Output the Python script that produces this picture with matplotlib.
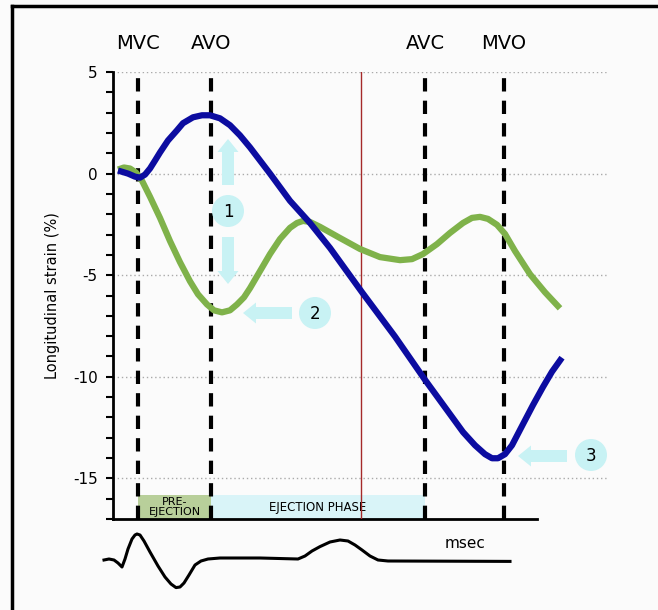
import matplotlib
matplotlib.use('Agg')
import matplotlib.pyplot as plt
from matplotlib.patches import FancyArrow, Circle, Rectangle
from matplotlib.lines import Line2D
from matplotlib.ticker import MultipleLocator

plt.rcParams['axes.unicode_minus'] = False
plt.rcParams['font.family'] = 'DejaVu Sans'

# valve events (msec)
event_names = ['MVC', 'AVO', 'AVC', 'MVO']
event_times = [50, 196, 624, 782]
mid_time = 496

# longitudinal strain (%) over time (msec)
t_blue = [10, 30, 44, 54, 64, 74, 84, 94, 110, 128, 140, 160, 178, 194, 214,
          234, 254, 274, 314, 354, 394, 434, 498, 564, 624, 700, 724, 744,
          758, 770, 784, 798, 820, 840, 860, 878, 898]
s_blue = [0.15, 0.0, -0.15, -0.2, -0.05, 0.25, 0.64, 1.04, 1.63, 2.13, 2.48,
          2.77, 2.87, 2.87, 2.72, 2.38, 1.88, 1.29, 0.0, -1.34, -2.43, -3.66,
          -5.84, -8.02, -10.15, -12.72, -13.37, -13.81, -14.01, -14.01,
          -13.81, -13.37, -12.33, -11.39, -10.5, -9.75, -9.06]

t_green = [10, 22, 34, 46, 58, 74, 94, 114, 134, 154, 170, 188, 202, 218,
           234, 248, 262, 274, 294, 314, 334, 354, 368, 380, 394, 414, 454,
           494, 534, 574, 598, 620, 648, 674, 700, 718, 734, 750, 768, 784,
           804, 834, 864, 894]
s_green = [0.2, 0.3, 0.25, 0.05, -0.35, -1.14, -2.18, -3.32, -4.36, -5.30,
           -5.94, -6.44, -6.73, -6.83, -6.73, -6.44, -6.09, -5.64, -4.80,
           -3.96, -3.22, -2.67, -2.43, -2.33, -2.38, -2.62, -3.17, -3.71,
           -4.11, -4.26, -4.21, -3.96, -3.47, -2.92, -2.43, -2.18, -2.13,
           -2.23, -2.52, -2.97, -3.81, -4.95, -5.84, -6.63]

# ECG trace
t_ecg = [-18, -8, 2, 10, 18, 24, 30, 38, 44, 48, 54, 62, 74, 90, 104, 116,
         126, 134, 142, 152, 164, 176, 190, 214, 294, 370, 384, 398, 414, 434,
         454, 470, 484, 498, 514, 530, 550, 794]
v_ecg = [0.05, 0.1, 0.05, -0.1, -0.3, 0.1, 0.6, 1.1, 1.3, 1.35, 1.3, 1.0,
         0.45, -0.25, -0.8, -1.15, -1.33, -1.3, -1.1, -0.7, -0.2, 0.0, 0.1,
         0.15, 0.15, 0.1, 0.25, 0.5, 0.72, 0.95, 1.05, 1.0, 0.8, 0.55, 0.25,
         0.05, 0.0, -0.02]

W, H = 658, 610
fig = plt.figure(figsize=(W / 100, H / 100), dpi=100, facecolor='#fbfbfb')

ax = fig.add_axes([113 / W, 1 - 519 / H, 495 / W, 447 / H])
ax.set_facecolor('none')
ax.set_xlim(0, 990)
ax.set_ylim(-17, 5)

for sp in ['top', 'right']:
    ax.spines[sp].set_visible(False)
ax.spines['left'].set_linewidth(2)
ax.spines['bottom'].set_linewidth(2)
ax.spines['bottom'].set_bounds(0, 848)

ax.set_xticks([])
ax.yaxis.set_major_locator(MultipleLocator(5))
ax.yaxis.set_minor_locator(MultipleLocator(1))
ax.tick_params(axis='y', which='both', direction='out', length=5, width=1.5,
               labelsize=11, pad=6)
ax.yaxis.grid(True, which='major', linestyle=(0, (1, 2)), color='#aaaaaa', lw=1)
ax.set_axisbelow(True)
ax.set_ylabel('Longitudinal strain (%)', fontsize=10.5)
ax.yaxis.set_label_coords(-0.107, 0.5)

# phase bands at the bottom
ax.add_patch(Rectangle((event_times[0], -17), event_times[1] - event_times[0], 1.18,
                       facecolor='#b8cf9a', edgecolor='none', zorder=1))
ax.add_patch(Rectangle((event_times[1], -17), event_times[2] - event_times[1], 1.18,
                       facecolor='#d9f4f8', edgecolor='none', zorder=1))
ax.text((event_times[0] + event_times[1]) / 2, -16.42, 'PRE-\nEJECTION',
        ha='center', va='center', fontsize=8, linespacing=0.95, zorder=2)
ax.text((event_times[1] + event_times[2]) / 2, -16.45, 'EJECTION PHASE',
        ha='center', va='center', fontsize=8.5, zorder=2)

ax.axvline(mid_time, color='#a52a2a', lw=1, zorder=3)
for name, t in zip(event_names, event_times):
    ax.axvline(t, color='black', lw=3, linestyle=(0, (3.2, 2.2)), zorder=3)
    ax.text(t, 1.063, name, transform=ax.get_xaxis_transform(),
            ha='center', va='center', fontsize=14)

ax.plot(t_green, s_green, color='#7fb24a', lw=4.5, solid_capstyle='butt',
        solid_joinstyle='round', zorder=4)
ax.plot(t_blue, s_blue, color='#0c0ca0', lw=4.5, solid_capstyle='butt',
        solid_joinstyle='round', zorder=5)

# ECG below the strain panel
ax_ecg = fig.add_axes([113 / W, 1 - 600 / H, 495 / W, 75 / H])
ax_ecg.set_xlim(0, 990)
ax_ecg.set_ylim(-1.95, 1.8)
ax_ecg.axis('off')
ax_ecg.plot(t_ecg, v_ecg, color='black', lw=2.2, clip_on=False,
            solid_joinstyle='round')
ax_ecg.text(704, 0.9, 'msec', ha='center', va='center', fontsize=11)

# overlay in pixel units for the numbered arrows
ov = fig.add_axes([0, 0, 1, 1], zorder=10)
ov.set_xlim(0, W)
ov.set_ylim(H, 0)
ov.axis('off')
cyan = '#c8f2f4'

def block_arrow(x0, y0, dx, dy):
    ov.add_patch(FancyArrow(x0, y0, dx, dy, width=12, head_width=21,
                            head_length=13, length_includes_head=True,
                            color=cyan, lw=0))

def badge(x, y, label):
    ov.add_patch(Circle((x, y), 16, color=cyan, lw=0))
    ov.text(x, y + 1, label, ha='center', va='center', fontsize=12)

block_arrow(228, 185, 0, -46)
block_arrow(228, 237, 0, 47)
badge(228, 211, '1')
block_arrow(292, 313, -49, 0)
badge(315, 313, '2')
block_arrow(567, 456, -49, 0)
badge(591, 455, '3')

# frame lines
fig.add_artist(Line2D([12 / W, 1], [1 - 6 / H, 1 - 6 / H], color='black', lw=2.5))
fig.add_artist(Line2D([12 / W, 12 / W], [0, 1 - 6 / H], color='black', lw=2.5))

fig.savefig('out.png', dpi=100, facecolor=fig.get_facecolor())
